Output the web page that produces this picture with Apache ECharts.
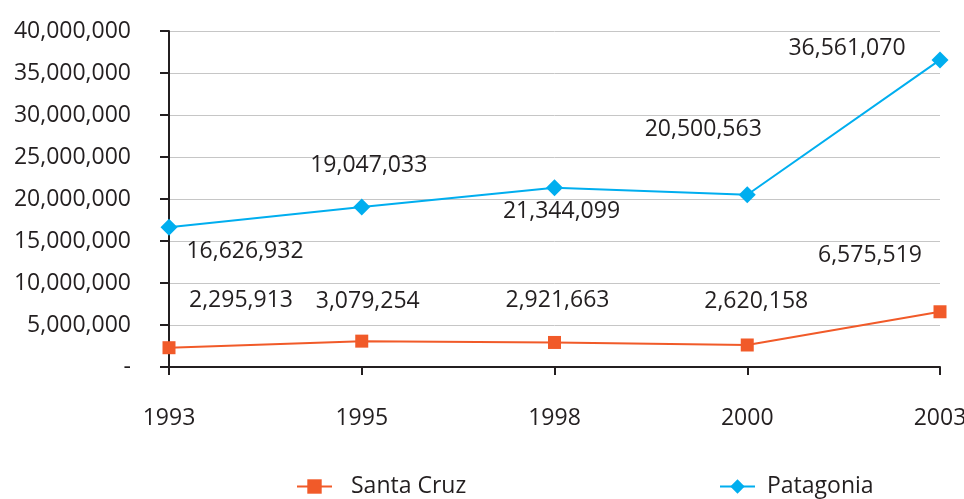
<!DOCTYPE html>
<html lang="en">
<head>
    <meta charset="UTF-8">
    <title>Santa Cruz / Patagonia</title>
    <style>
        body{margin:0;background:#fff;}
    </style>
    <script src="https://cdn.jsdelivr.net/npm/echarts@6/dist/echarts.min.js"></script>
</head>
<body>
<div id="ec" style="width:964px;height:499px;"></div>

<script>
    var years = ['1993', '1995', '1998', '2000', '2003'];
    var santaCruz = [2295913, 3079254, 2921663, 2620158, 6575519];
    var patagonia = [16626932, 19047033, 21344099, 20500563, 36561070];

    // where each value label sits, relative to its point
    var santaCruzLabelOffset = [[72, -47], [6, -40], [3, -42], [9, -44], [-70, -56]];
    var patagoniaLabelOffset = [[76, 24], [7, -42], [7, 24], [-44, -65], [-93, -11]];

    var fontFam = '"Open Sans", sans-serif';
    var txt = '#231f20';
    var fs = 23;

    function fmt(v) {
        if (v === 0) return '-';
        return v.toString().replace(/\B(?=(\d{3})+(?!\d))/g, ',');
    }

    function withLabels(values, offsets) {
        return values.map(function (v, i) {
            return {value: v, label: {offset: offsets[i]}};
        });
    }

    var myChart = echarts.init(document.getElementById('ec'));
    var option = {
        animation: false,
        textStyle: {fontFamily: fontFam},
        grid: {left: 169, right: 24, top: 31, bottom: 132, outerBoundsMode: 'none', containLabel: false},
        legend: [{
            data: ['Santa Cruz'],
            left: 291, top: 470,
            itemWidth: 35, itemHeight: 18,
            textStyle: {fontFamily: fontFam, fontSize: fs, color: txt, padding: [0, 0, 0, 14]}
        }, {
            data: ['Patagonia'],
            left: 714, top: 470,
            itemWidth: 35, itemHeight: 18,
            textStyle: {fontFamily: fontFam, fontSize: fs, color: txt, padding: [0, 0, 0, 7]}
        }],
        xAxis: {
            type: 'category',
            data: years,
            boundaryGap: false,
            axisLine: {lineStyle: {color: txt, width: 2}},
            axisTick: {show: true, length: 8, lineStyle: {color: txt, width: 2}},
            axisLabel: {fontSize: fs, color: txt, margin: 40, fontFamily: fontFam},
            splitLine: {show: false}
        },
        yAxis: {
            type: 'value',
            min: 0,
            max: 40000000,
            interval: 5000000,
            axisLine: {show: true, lineStyle: {color: txt, width: 2}},
            axisTick: {show: true, length: 9, lineStyle: {color: txt, width: 2}},
            axisLabel: {fontSize: fs, color: txt, margin: 38, fontFamily: fontFam, formatter: fmt},
            splitLine: {lineStyle: {color: '#c6c6c6', width: 1}}
        },
        series: [{
            name: 'Santa Cruz',
            type: 'line',
            data: withLabels(santaCruz, santaCruzLabelOffset),
            symbol: 'rect',
            symbolSize: 13,
            itemStyle: {color: '#f15a29'},
            lineStyle: {color: '#f15a29', width: 2},
            label: {
                show: true, position: 'inside', fontSize: fs, color: txt,
                fontFamily: fontFam, formatter: function (p) { return fmt(p.value); }
            }
        }, {
            name: 'Patagonia',
            type: 'line',
            data: withLabels(patagonia, patagoniaLabelOffset),
            symbol: 'diamond',
            symbolSize: 17,
            itemStyle: {color: '#00aeef'},
            lineStyle: {color: '#00aeef', width: 2},
            label: {
                show: true, position: 'inside', fontSize: fs, color: txt,
                fontFamily: fontFam, formatter: function (p) { return fmt(p.value); }
            }
        }]
    };
    myChart.setOption(option, true);
</script>
</body>
</html>
